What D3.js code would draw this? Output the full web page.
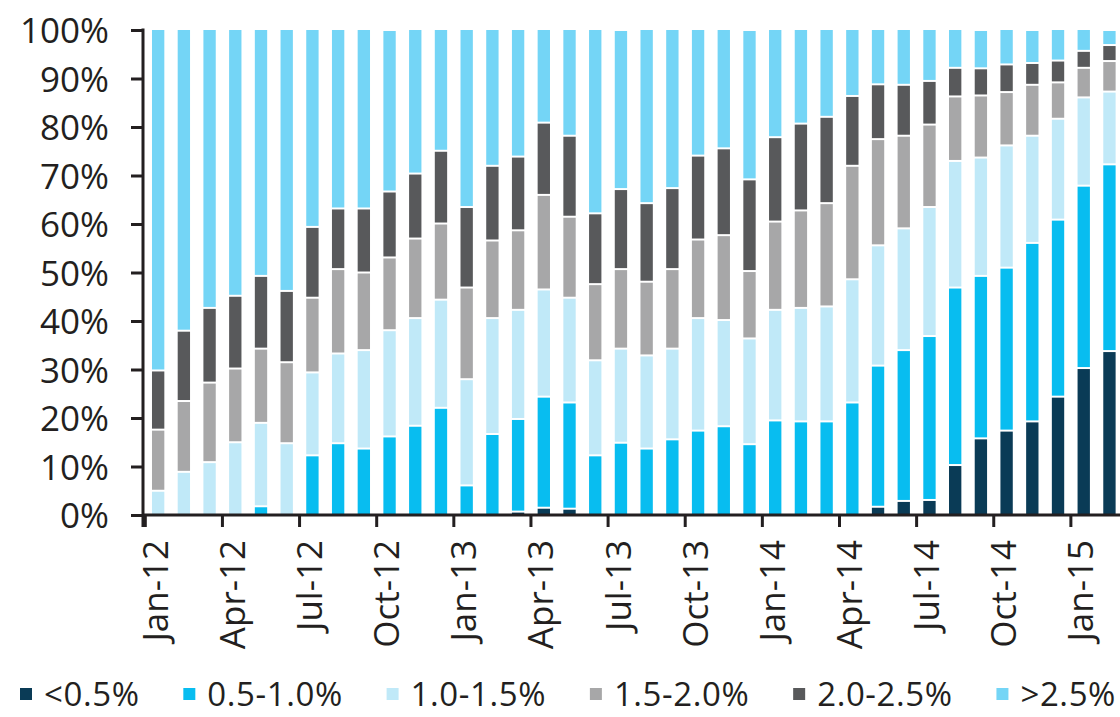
<!DOCTYPE html>
<html>
<head>
<meta charset="utf-8">
<script src="https://cdn.jsdelivr.net/npm/d3@7"></script>
<style>
  html, body { margin: 0; padding: 0; background: #fff; }
  svg { display: block; }
  text { font-family: "Open Sans", sans-serif; fill: #231f20; }
</style>
</head>
<body>
<svg id="chart" width="1120" height="717"></svg>
<script>
// Monthly share of the market by yield bucket (percent of total)
const months = [
  "Jan-12","Feb-12","Mar-12","Apr-12","May-12","Jun-12","Jul-12","Aug-12","Sep-12","Oct-12","Nov-12","Dec-12",
  "Jan-13","Feb-13","Mar-13","Apr-13","May-13","Jun-13","Jul-13","Aug-13","Sep-13","Oct-13","Nov-13","Dec-13",
  "Jan-14","Feb-14","Mar-14","Apr-14","May-14","Jun-14","Jul-14","Aug-14","Sep-14","Oct-14","Nov-14","Dec-14",
  "Jan-15","Feb-15"
];
const tickMonths = ["Jan-12","Apr-12","Jul-12","Oct-12","Jan-13","Apr-13","Jul-13","Oct-13","Jan-14","Apr-14","Jul-14","Oct-14","Jan-15"];
const seriesNames = ["<0.5%","0.5-1.0%","1.0-1.5%","1.5-2.0%","2.0-2.5%",">2.5%"];
const seriesColors = ["#0a3b56","#08bdf0","#c0e9f8","#a7a7a8","#58595b","#74d5f6"];

const below05 = [0,0,0,0,0,0,0,0,0,0,0,0, 0,0,0.7,1.5,1.3,0,0,0,0,0,0,0, 0,0,0,0,1.7,2.9,3.1,10.3,15.8,17.4,19.3,24.4, 30.3,33.8];
const from05to10 = [0,0,0,0,1.8,0,12.3,14.8,13.7,16.2,18.4,22.1, 6.1,16.7,19.1,22.9,21.9,12.3,14.9,13.7,15.6,17.4,18.3,14.6, 19.5,19.3,19.3,23.2,29.1,31.1,33.8,36.6,33.5,33.6,36.8,36.5, 37.6,38.5];
const from10to15 = [5.0,8.9,10.9,15.0,17.2,14.8,17.1,18.5,20.3,21.9,22.2,22.3, 21.9,23.9,22.5,22.1,21.6,19.6,19.4,19.2,18.7,23.2,21.9,21.8, 22.8,23.4,23.7,25.4,24.8,25.1,26.6,26.1,24.4,25.2,22.1,20.8, 18.2,15.0];
const from15to20 = [12.6,14.6,16.4,15.2,15.3,16.7,15.4,17.4,16.0,15.0,16.4,15.7, 18.9,16.0,16.4,19.5,16.7,15.7,16.4,15.2,16.4,16.2,17.5,13.9, 18.2,20.1,21.3,23.4,21.9,19.1,17.0,13.3,12.8,11.0,10.5,7.5, 6.1,6.3];
const from20to25 = [12.2,14.5,15.4,15.0,15.0,14.7,14.6,12.5,13.2,13.6,13.4,15.0, 16.6,15.4,15.2,14.9,16.7,14.6,16.5,16.2,16.7,17.3,17.9,18.9, 17.4,17.9,17.8,14.4,11.3,10.5,9.0,5.9,5.6,5.7,4.5,4.5, 3.5,3.3];
const above25 = [70.2,62.0,57.3,54.8,50.7,53.8,40.6,36.8,36.8,33.3,29.6,24.9, 36.5,28.0,26.1,19.1,21.8,37.8,32.8,35.7,32.6,25.9,24.4,30.8, 22.1,19.3,17.9,13.6,11.2,11.3,10.5,7.8,7.9,7.1,6.8,6.3, 4.3,3.1];
const yTicks = [0,10,20,30,40,50,60,70,80,90,100];

const seriesValues = [below05, from05to10, from10to15, from15to20, from20to25, above25];
const rows = months.map((m, i) => {
  const r = { month: m };
  seriesNames.forEach((s, k) => { r[s] = seriesValues[k][i]; });
  return r;
});

const svg = d3.select("#chart");
const axisColor = "#231f20";
const plotLeft = 143, plotTop = 30, plotBottom = 515;

const x = d3.scaleBand()
  .domain(months)
  .range([145.3, 1122.3])
  .paddingInner(0.52)
  .paddingOuter(0.26);

const y = d3.scaleLinear().domain([0, 100]).range([plotBottom, plotTop]);
const color = d3.scaleOrdinal().domain(seriesNames).range(seriesColors);

const stacked = d3.stack().keys(seriesNames)(rows);

// Stacked columns, separated by a thin white gap
const gap = 1;
svg.append("g")
  .selectAll("g")
  .data(stacked)
  .join("g")
  .attr("fill", d => color(d.key))
  .selectAll("rect")
  .data(d => d.filter(v => v[1] - v[0] > 0))
  .join("rect")
  .attr("x", d => x(d.data.month))
  .attr("width", x.bandwidth())
  .attr("y", d => y(d[1]) + (d[1] >= 100 ? 0 : gap))
  .attr("height", d => Math.max(0.5, y(d[0]) - y(d[1]) - (d[1] >= 100 ? gap : 2 * gap) + (d[0] <= 0 ? gap : 0)));

// Y axis
const yAxis = d3.axisLeft(y)
  .tickValues(yTicks)
  .tickSize(12)
  .tickPadding(22)
  .tickFormat(d => d + "%");
const gy = svg.append("g").attr("transform", `translate(${plotLeft},0)`).call(yAxis);
gy.select(".domain").remove();
gy.selectAll(".tick line").attr("stroke", axisColor).attr("stroke-width", 3);
gy.selectAll(".tick text")
  .attr("font-size", 35)
  .attr("font-family", "\"Open Sans\", sans-serif")
  .attr("fill", axisColor)
  .attr("dy", "0.36em");
svg.append("line")
  .attr("x1", plotLeft).attr("x2", plotLeft)
  .attr("y1", plotTop - 1.5).attr("y2", plotBottom + 12)
  .attr("stroke", axisColor).attr("stroke-width", 3);

// X axis
svg.append("line")
  .attr("x1", plotLeft).attr("x2", 1120)
  .attr("y1", plotBottom).attr("y2", plotBottom)
  .attr("stroke", axisColor).attr("stroke-width", 3);

const slotStart = m => x(m) - x.step() * x.paddingInner() / 2;
const gx = svg.append("g");
gx.selectAll("line")
  .data(tickMonths)
  .join("line")
  .attr("x1", d => slotStart(d)).attr("x2", d => slotStart(d))
  .attr("y1", plotBottom).attr("y2", plotBottom + 12)
  .attr("stroke", axisColor).attr("stroke-width", 3);
gx.selectAll("text")
  .data(tickMonths)
  .join("text")
  .attr("transform", d => `translate(${x(d) + x.bandwidth() / 2 - 3},${plotBottom + 25}) rotate(-90)`)
  .attr("text-anchor", "end")
  .attr("dy", "0.36em")
  .attr("font-size", 35)
  .text(d => d);

// Legend: items spread across the full width below the axis labels
const legendLeft = 20, legendRight = 1116, swatch = 12, swatchGap = 12;
const legend = svg.append("g").attr("transform", "translate(0,694)");
const items = seriesNames.map((name, i) => {
  const g = legend.append("g");
  g.append("rect")
    .attr("x", 0).attr("y", -6)
    .attr("width", swatch).attr("height", swatch)
    .attr("fill", seriesColors[i]);
  const t = g.append("text")
    .attr("x", swatch + swatchGap)
    .attr("dy", "0.36em")
    .attr("font-size", 33)
    .attr("letter-spacing", 0.6)
    .text(name);
  return { g, w: swatch + swatchGap + t.node().getComputedTextLength() };
});
const totalW = d3.sum(items, d => d.w);
const itemGap = (legendRight - legendLeft - totalW) / (items.length - 1);
let cursor = legendLeft;
items.forEach(it => {
  it.g.attr("transform", `translate(${cursor},0)`);
  cursor += it.w + itemGap;
});
</script>
</body>
</html>
